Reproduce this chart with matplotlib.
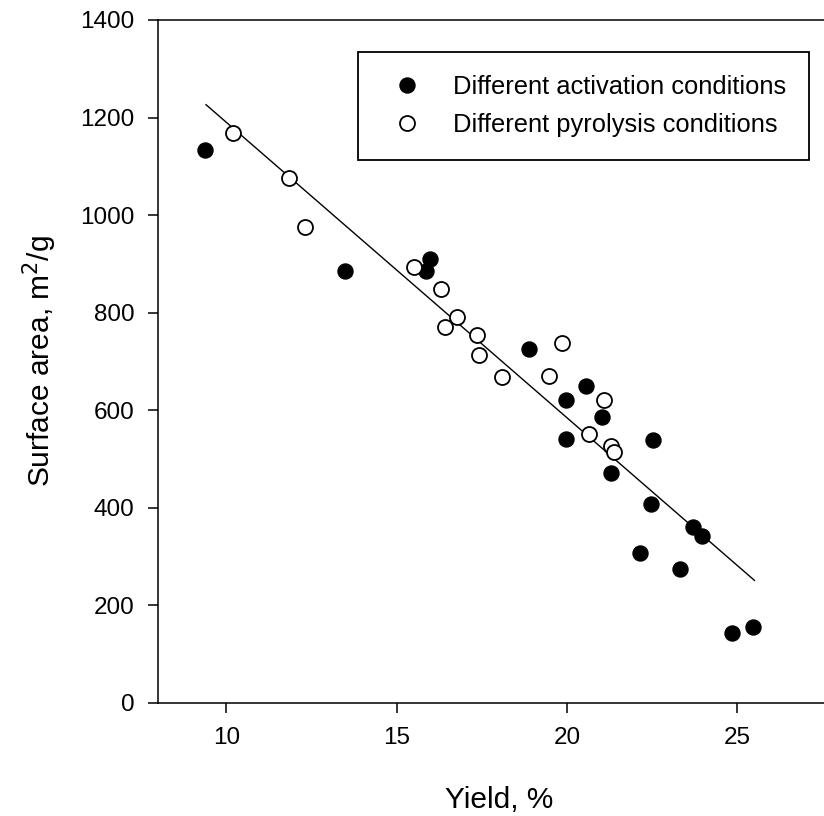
import matplotlib
matplotlib.use("Agg")
import matplotlib.pyplot as plt
from matplotlib.lines import Line2D
import numpy as np

plt.rcParams['font.family'] = ['Liberation Sans', 'DejaVu Sans']

# Data: different activation conditions (filled)
act_yield = [9.38, 13.48, 15.97, 15.85, 18.89, 20.56, 19.96, 21.03, 19.97, 22.53,
             21.3, 22.45, 23.7, 23.95, 22.15, 23.3, 24.85, 25.45]
act_area = [1134, 885, 910, 886, 725, 649, 621, 585, 541, 538,
            471, 407, 360, 342, 306, 275, 143, 155]

# Different pyrolysis conditions (open)
pyr_yield = [10.2, 11.83, 12.32, 15.51, 16.29, 16.78, 16.42, 17.36, 17.42, 18.09,
             19.85, 19.46, 21.08, 20.63, 21.3, 21.37]
pyr_area = [1168, 1075, 975, 893, 848, 791, 770, 755, 713, 668,
            738, 670, 620, 550, 526, 514]

# Linear fit line
fit_slope = -60.6
fit_intercept = 1796.0
fit_x_range = [9.4, 25.5]

xticks = [10, 15, 20, 25]
yticks = [0, 200, 400, 600, 800, 1000, 1200, 1400]

W, H = 824, 816
fig = plt.figure(figsize=(W / 100, H / 100), dpi=100)
left_px, right_px, top_px, bot_px = 158.3, 839.7, 20.0, 702.7
ax = fig.add_axes([left_px / W, 1 - bot_px / H, (right_px - left_px) / W, (bot_px - top_px) / H])

fx = np.array(fit_x_range)
ax.plot(fx, fit_intercept + fit_slope * fx, color='black', lw=1.0, zorder=2)

ms = 10.8
ax.plot(act_yield, act_area, 'o', ms=ms, mfc='black', mec='black', mew=1.0, zorder=3,
        linestyle='none')
ax.plot(pyr_yield, pyr_area, 'o', ms=ms, mfc='white', mec='black', mew=1.3, zorder=3,
        linestyle='none')

ax.set_xlim(8, 28)
ax.set_ylim(0, 1400)
ax.set_xticks(xticks)
ax.set_yticks(yticks)

for side in ['top', 'bottom', 'left', 'right']:
    ax.spines[side].set_linewidth(1.1)
ax.tick_params(axis='both', direction='out', length=7.2, width=1.1, labelsize=17.5,
               top=False, right=False)
ax.tick_params(axis='x', pad=10)
ax.tick_params(axis='y', pad=10)

ax.set_xlabel('Yield, %', fontsize=21.5, labelpad=27)
ax.set_ylabel('Surface area, m$^2$/g', fontsize=21.5, labelpad=15)

handles = [
    Line2D([], [], marker='o', linestyle='none', ms=ms, mfc='black', mec='black'),
    Line2D([], [], marker='o', linestyle='none', ms=ms, mfc='white', mec='black', mew=1.3),
]
leg = ax.legend(handles, ['Different activation conditions', 'Different pyrolysis conditions'],
                loc='upper left', bbox_to_anchor=(358 / W, 1 - 51.7 / H),
                bbox_transform=fig.transFigure, fontsize=18.4, frameon=True,
                fancybox=False, edgecolor='black', framealpha=1,
                borderpad=0.9, handlelength=2.0, handletextpad=0.8,
                labelspacing=0.57, borderaxespad=0)
leg.get_frame().set_linewidth(1.3)

fig.savefig('out.png', dpi=100)
